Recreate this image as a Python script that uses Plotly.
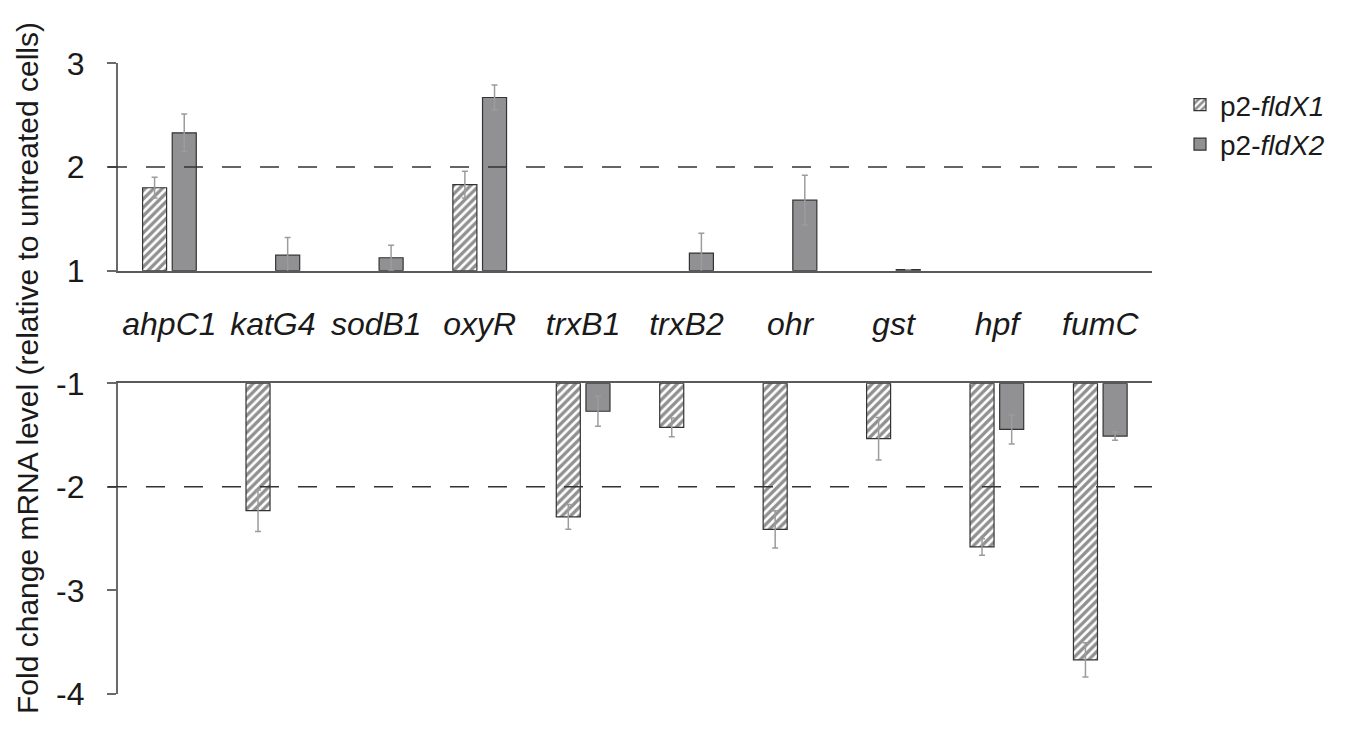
import plotly.graph_objects as go

genes = ["ahpC1", "katG4", "sodB1", "oxyR", "trxB1", "trxB2", "ohr", "gst", "hpf", "fumC"]
fldX1 = [1.80, -2.23, None, 1.83, -2.29, -1.425, -2.41, -1.535, -2.58, -3.67]
fldX1_err = [0.10, 0.20, None, 0.13, 0.12, 0.09, 0.18, 0.205, 0.08, 0.165]
fldX2 = [2.33, 1.15, 1.125, 2.67, -1.27, 1.17, 1.68, 1.01, -1.445, -1.51]
fldX2_err = [0.18, 0.17, 0.12, 0.12, 0.145, 0.19, 0.24, 0.0, 0.14, 0.04]
threshold = 2
top_ticks = [1, 2, 3]
bottom_ticks = [-4, -3, -2, -1]

W, H = 1359, 736
OFF = 8  # page body margin
FONT = "Liberation Sans, Arial, sans-serif"


def split(vals, errs, positive):
    v_out, e_out = [], []
    for v, e in zip(vals, errs):
        if v is not None and ((v > 0) if positive else (v < 0)):
            v_out.append(v - 1 if positive else v + 1)
            e_out.append(e)
        else:
            v_out.append(None)
            e_out.append(None)
    return v_out, e_out


def px_x(p):
    return (p - OFF) / W


def px_y(p):
    return (H - (p - OFF)) / H


styles = {
    "X1": dict(color="white", line=dict(color="#333333", width=1.2),
               pattern=dict(shape="/", fgcolor="#222222", bgcolor="white", size=6, solidity=0.55)),
    "X2": dict(color="#919193", line=dict(color="#333333", width=1.2)),
}
err_style = dict(type="data", color="#9c9c9c", thickness=1.5, width=3, visible=True)

fig = go.Figure()
series = [("X1", "p2-<i>fldX1</i>", fldX1, fldX1_err), ("X2", "p2-<i>fldX2</i>", fldX2, fldX2_err)]
for key, name, vals, errs in series:
    tv, te = split(vals, errs, True)
    fig.add_trace(go.Bar(x=genes, y=tv, base=1, name=name, legendgroup=key,
                         marker=styles[key], error_y=dict(array=te, **err_style),
                         xaxis="x", yaxis="y"))
for key, name, vals, errs in series:
    bv, be = split(vals, errs, False)
    fig.add_trace(go.Bar(x=genes, y=bv, base=-1, name=name, legendgroup=key, showlegend=False,
                         marker=styles[key], error_y=dict(array=be, **err_style),
                         xaxis="x2", yaxis="y2"))

xdom = [px_x(117.7), px_x(1152)]
axis_line = dict(showline=True, linecolor="#5a5a5a", linewidth=2)
tick_font = dict(size=32, family=FONT, color="#1a1a1a")

fig.update_layout(
    width=W, height=H,
    margin=dict(l=0, r=0, t=0, b=0),
    paper_bgcolor="white", plot_bgcolor="rgba(0,0,0,0)",
    font=dict(family=FONT, color="#1a1a1a"),
    barmode="group", bargap=0.4265, bargroupgap=0.19,
    showlegend=True,
    legend=dict(x=px_x(1180), y=px_y(80), xanchor="left", yanchor="top",
                font=dict(size=28, family=FONT, color="#1a1a1a"),
                bgcolor="rgba(0,0,0,0)", tracegroupgap=0, itemwidth=30),
    xaxis=dict(domain=xdom, anchor="y", type="category", categoryorder="array", categoryarray=genes,
               ticks="", showgrid=False, zeroline=False, automargin=False,
               tickfont=dict(size=32, family=FONT, style="italic", color="#1a1a1a"),
               ticklabelstandoff=24, **axis_line),
    xaxis2=dict(domain=xdom, anchor="y2", matches="x", type="category", side="top",
                showticklabels=False, ticks="", showgrid=False, zeroline=False, automargin=False,
                **axis_line),
    yaxis=dict(domain=[px_y(270.7), px_y(63.3)], anchor="x", range=[1, 3],
               tickvals=top_ticks, ticktext=[str(t) for t in top_ticks],
               ticks="outside", ticklen=9, tickwidth=1.5, tickcolor="#6a6a6a",
               showline=True, linecolor="#6a6a6a", linewidth=1.5,
               showgrid=False, zeroline=False, automargin=False,
               tickfont=tick_font, ticklabelstandoff=16),
    yaxis2=dict(domain=[px_y(694), px_y(383.3)], anchor="x2", range=[-4, -1],
                tickvals=bottom_ticks, ticktext=[str(t) for t in bottom_ticks],
                ticks="outside", ticklen=9, tickwidth=1.5, tickcolor="#6a6a6a",
                showline=True, linecolor="#6a6a6a", linewidth=1.5,
                showgrid=False, zeroline=False, automargin=False,
                tickfont=tick_font, ticklabelstandoff=16),
)

for yref, yv in [("y", threshold), ("y2", -threshold)]:
    fig.add_shape(type="line", xref="paper", yref=yref, x0=px_x(108), x1=px_x(1152), y0=yv, y1=yv,
                  line=dict(color="#333333", width=1.5, dash="19px,19px"), layer="above")

fig.add_annotation(text="Fold change mRNA level (relative to untreated cells)",
                   xref="paper", yref="paper", x=px_x(28), y=px_y(368), textangle=-90,
                   showarrow=False, font=dict(size=30, family=FONT, color="#1a1a1a"),
                   xanchor="center", yanchor="middle", borderpad=0)

fig.write_html("out.html")
